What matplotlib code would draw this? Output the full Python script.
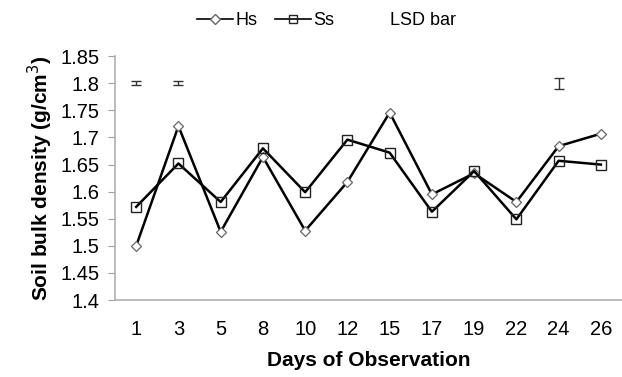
import matplotlib
matplotlib.use('Agg')
import matplotlib.pyplot as plt
from matplotlib.lines import Line2D

plt.rcParams['font.family'] = ['Liberation Sans', 'DejaVu Sans']

# Observation days and bulk density per treatment
days = ['1', '3', '5', '8', '10', '12', '15', '17', '19', '22', '24', '26']
hs = [1.500, 1.721, 1.526, 1.664, 1.528, 1.618, 1.746, 1.595, 1.634, 1.581, 1.684, 1.707]
ss = [1.572, 1.652, 1.581, 1.680, 1.599, 1.696, 1.672, 1.563, 1.638, 1.549, 1.657, 1.650]

# LSD bars: which days, centre value, half-width
lsd_days = ['1', '3', '24']
lsd_centre = [1.800, 1.800, 1.799]
lsd_half = [0.004, 0.004, 0.010]

y_ticks = [1.4, 1.45, 1.5, 1.55, 1.6, 1.65, 1.7, 1.75, 1.8, 1.85]
y_labels = ['1.4', '1.45', '1.5', '1.55', '1.6', '1.65', '1.7', '1.75', '1.8', '1.85']

fig = plt.figure(figsize=(6.22, 3.77), dpi=100)
ax = fig.add_axes([0.185, 0.204, 0.815, 0.647])

x = list(range(len(days)))
ax.plot(x, hs, color='black', lw=1.8, marker='D', markersize=5.5,
        markerfacecolor='white', markeredgecolor='#666666', markeredgewidth=0.9, label='Hs', zorder=3)
ax.plot(x, ss, color='black', lw=1.8, marker='s', markersize=7.5,
        markerfacecolor='none', markeredgecolor='#222222', markeredgewidth=1.0, label='Ss', zorder=3)

lsd_x = [days.index(d) for d in lsd_days]
ax.errorbar(lsd_x, lsd_centre, yerr=lsd_half, fmt='none', ecolor='#333333',
            elinewidth=1.0, capsize=3.5, capthick=1.0)

ax.set_xlim(-0.5, len(days) - 0.5)
ax.set_ylim(1.4, 1.85)
ax.set_xticks(x)
ax.set_xticklabels(days)
ax.set_yticks(y_ticks)
ax.set_yticklabels(y_labels)
ax.tick_params(axis='x', length=0, labelsize=14.5, pad=14)
ax.tick_params(axis='y', length=5, color='#a0a0a0', labelsize=14.5, pad=6)

for side in ['top', 'right']:
    ax.spines[side].set_visible(False)
for side in ['left', 'bottom']:
    ax.spines[side].set_color('#b0b0b0')
    ax.spines[side].set_linewidth(1.2)

ax.set_xlabel('Days of Observation', fontsize=15, fontweight='bold', labelpad=9)
ax.set_ylabel('Soil bulk density (g/cm$^3$)', fontsize=15, fontweight='bold', labelpad=4)

handles = [
    Line2D([], [], color='black', lw=1.2, marker='D', markersize=5,
           markerfacecolor='white', markeredgecolor='#666666'),
    Line2D([], [], color='black', lw=1.2, marker='s', markersize=6,
           markerfacecolor='none', markeredgecolor='#222222'),
    Line2D([], [], color='none'),
]
fig.legend(handles, ['Hs', 'Ss', 'LSD bar'], loc='center', bbox_to_anchor=(0.525, 0.945),
           ncol=3, frameon=False, fontsize=13, handlelength=2.0, handletextpad=0.1,
           columnspacing=1.0)

fig.savefig('out.png', dpi=100)
